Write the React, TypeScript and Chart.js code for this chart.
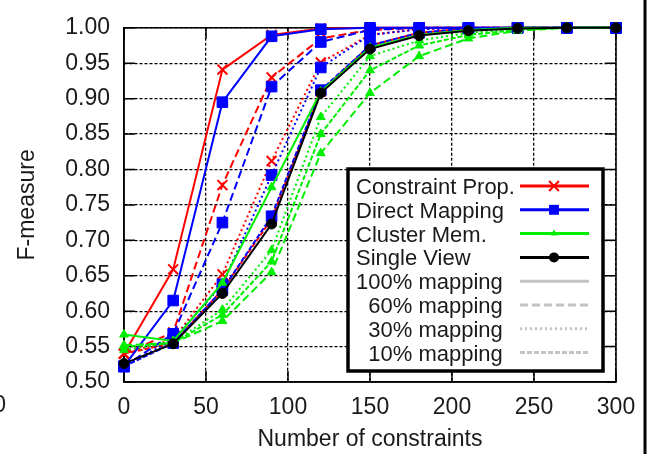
import React, { useEffect, useRef } from 'react';
import { Chart, registerables } from 'chart.js';

Chart.register(...registerables);

// ---------- data ----------
const xValues = [0, 30, 60, 90, 120, 150, 180, 210, 240, 270, 300];
const xTicks = [0, 50, 100, 150, 200, 250, 300];
const yTicks = [0.5, 0.55, 0.6, 0.65, 0.7, 0.75, 0.8, 0.85, 0.9, 0.95, 1.0];

const methods = ['Constraint Prop.', 'Direct Mapping', 'Cluster Mem.', 'Single View'];
const mappings = ['100% mapping', '60% mapping', '30% mapping', '10% mapping'];

const cp100 = [0.54, 0.659, 0.941, 0.99, 0.999, 1.0, 1.0, 1.0, 1.0, 1.0, 1.0];
const cp60 = [0.54, 0.57, 0.778, 0.93, 0.985, 0.997, 1.0, 1.0, 1.0, 1.0, 1.0];
const cp30 = [0.54, 0.56, 0.652, 0.812, 0.951, 0.99, 0.998, 1.0, 1.0, 1.0, 1.0];
const cp10 = [0.54, 0.555, 0.63, 0.73, 0.91, 0.975, 0.993, 0.999, 1.0, 1.0, 1.0];

const dm100 = [0.522, 0.615, 0.895, 0.988, 0.998, 1.0, 1.0, 1.0, 1.0, 1.0, 1.0];
const dm60 = [0.522, 0.568, 0.725, 0.917, 0.98, 0.997, 1.0, 1.0, 1.0, 1.0, 1.0];
const dm30 = [0.522, 0.56, 0.638, 0.792, 0.944, 0.99, 0.998, 1.0, 1.0, 1.0, 1.0];
const dm10 = [0.522, 0.555, 0.63, 0.734, 0.912, 0.975, 0.993, 0.999, 1.0, 1.0, 1.0];

const cm100 = [0.567, 0.558, 0.64, 0.775, 0.91, 0.972, 0.99, 0.997, 1.0, 1.0, 1.0];
const cm60 = [0.552, 0.555, 0.586, 0.655, 0.823, 0.908, 0.96, 0.985, 0.996, 1.0, 1.0];
const cm30 = [0.545, 0.556, 0.602, 0.686, 0.874, 0.96, 0.982, 0.993, 0.998, 1.0, 1.0];
const cm10 = [0.55, 0.555, 0.595, 0.67, 0.85, 0.94, 0.975, 0.99, 0.997, 1.0, 1.0];

const sv = [0.526, 0.554, 0.625, 0.723, 0.908, 0.97, 0.989, 0.996, 0.999, 1.0, 1.0];

// ---------- styles ----------
const FONT = "'Liberation Sans', Arial, Helvetica, sans-serif";
const colors = ['#ff0000', '#0000ff', '#00ee00', '#000000'];
const pointStyles = ['crossRot', 'rect', 'triangle', 'circle'];
const pointRadii = [7, 7.5, 5, 5];
const dashes = [[], [8, 4], [2, 3], [5, 2]];

const seriesByMethod = [
  [cp100, cp60, cp30, cp10],
  [dm100, dm60, dm30, dm10],
  [cm100, cm60, cm30, cm10],
  [sv],
];
const drawOrder = [3, 2, 1, 0];

function makeDatasets() {
  const out: any[] = [];
  seriesByMethod.forEach((list, m) => {
    list.forEach((vals, k) => {
      out.push({
        label: `${methods[m]} ${mappings[k]}`,
        data: xValues.map((x, i) => ({ x, y: vals[i] })),
        borderColor: colors[m],
        backgroundColor: colors[m],
        borderWidth: 2,
        borderDash: dashes[k],
        pointStyle: pointStyles[m],
        pointRadius: pointRadii[m],
        pointBorderWidth: m === 0 ? 2 : 1,
        pointBackgroundColor: colors[m],
        pointBorderColor: colors[m],
        showLine: true,
        fill: false,
        tension: 0,
        clip: false,
        order: drawOrder[m],
      });
    });
  });
  return out;
}

const TICK_LEN = 11;

function drawMarker(ctx: CanvasRenderingContext2D, style: string, x: number, y: number, r: number, color: string) {
  ctx.save();
  ctx.fillStyle = color;
  ctx.strokeStyle = color;
  ctx.setLineDash([]);
  if (style === 'crossRot') {
    const d = r * Math.SQRT1_2;
    ctx.lineWidth = 2;
    ctx.beginPath();
    ctx.moveTo(x - d, y - d); ctx.lineTo(x + d, y + d);
    ctx.moveTo(x - d, y + d); ctx.lineTo(x + d, y - d);
    ctx.stroke();
  } else if (style === 'rect') {
    const s = r * Math.SQRT1_2;
    ctx.fillRect(x - s, y - s, 2 * s, 2 * s);
  } else if (style === 'triangle') {
    ctx.beginPath();
    ctx.moveTo(x, y - r);
    ctx.lineTo(x + r * 0.866, y + r * 0.5);
    ctx.lineTo(x - r * 0.866, y + r * 0.5);
    ctx.closePath();
    ctx.fill();
  } else {
    ctx.beginPath();
    ctx.arc(x, y, r, 0, Math.PI * 2);
    ctx.fill();
  }
  ctx.restore();
}

const decorPlugin = {
  id: 'decor',
  beforeDatasetsDraw(chart: any) {
    const { ctx, chartArea: a, scales } = chart;
    const xs = scales.x;
    const ys = scales.y;
    ctx.save();
    ctx.setLineDash([]);
    ctx.strokeStyle = '#000';
    ctx.lineWidth = 1.5;
    ctx.beginPath();
    xTicks.forEach((t) => {
      const px = xs.getPixelForValue(t);
      ctx.moveTo(px, a.bottom); ctx.lineTo(px, a.bottom - TICK_LEN);
      ctx.moveTo(px, a.top); ctx.lineTo(px, a.top + TICK_LEN);
    });
    yTicks.forEach((t) => {
      const py = ys.getPixelForValue(t);
      ctx.moveTo(a.left, py); ctx.lineTo(a.left + TICK_LEN, py);
      ctx.moveTo(a.right, py); ctx.lineTo(a.right - TICK_LEN, py);
    });
    ctx.stroke();
    ctx.strokeRect(a.left, a.top, a.right - a.left, a.bottom - a.top);
    ctx.restore();
  },
  afterDatasetsDraw(chart: any) {
    const { ctx } = chart;
    const bx = 348, by = 169, bw = 255, bh = 202;
    ctx.save();
    ctx.fillStyle = '#fff';
    ctx.fillRect(bx, by, bw, bh);
    ctx.strokeStyle = '#000';
    ctx.lineWidth = 3.5;
    ctx.setLineDash([]);
    ctx.strokeRect(bx, by, bw, bh);

    ctx.font = `22px ${FONT}`;
    ctx.fillStyle = '#1a1a1a';
    ctx.textBaseline = 'alphabetic';
    const rowH = 23.8;
    const row0 = 186;
    const textX = 356;
    const lx1 = 520, lx2 = 589, mx = 554;
    const mapRight = textX + ctx.measureText(mappings[0]).width;
    methods.forEach((name, m) => {
      const ry = row0 + m * rowH;
      ctx.textAlign = 'left';
      ctx.fillStyle = '#1a1a1a';
      ctx.fillText(name, textX, ry + 8);
      ctx.strokeStyle = colors[m];
      ctx.lineWidth = 3;
      ctx.setLineDash([]);
      ctx.beginPath();
      ctx.moveTo(lx1, ry); ctx.lineTo(lx2, ry);
      ctx.stroke();
      const legendR = [7, 7, 4, 5][m];
      drawMarker(ctx, pointStyles[m], mx, ry, legendR, colors[m]);
    });
    mappings.forEach((name, k) => {
      const ry = row0 + (4 + k) * rowH;
      ctx.fillStyle = '#1a1a1a';
      ctx.textAlign = 'right';
      ctx.fillText(name, mapRight, ry + 8);
      ctx.strokeStyle = '#c4c4c4';
      ctx.lineWidth = 3;
      ctx.setLineDash(dashes[k]);
      ctx.beginPath();
      ctx.moveTo(lx1, ry); ctx.lineTo(lx2, ry);
      ctx.stroke();
    });
    ctx.restore();
  },
  afterDraw(chart: any) {
    const { ctx } = chart;
    ctx.save();
    ctx.setLineDash([]);
    ctx.strokeStyle = '#000';
    ctx.lineWidth = 3;
    ctx.beginPath();
    ctx.moveTo(645, 0); ctx.lineTo(645, 454);
    ctx.stroke();
    ctx.font = `23px ${FONT}`;
    ctx.fillStyle = '#222';
    ctx.textAlign = 'right';
    ctx.textBaseline = 'middle';
    ctx.fillText('0', 6, 406);
    ctx.restore();
  },
};

export default function App() {
  const ref = useRef<HTMLCanvasElement | null>(null);
  useEffect(() => {
    if (!ref.current) return;
    const chart = new Chart(ref.current, {
      type: 'scatter',
      data: { datasets: makeDatasets() },
      options: {
        responsive: false,
        animation: false,
        devicePixelRatio: 1,
        layout: { padding: { left: 0, top: 16, right: 44, bottom: 0 } },
        plugins: { legend: { display: false }, tooltip: { enabled: false } },
        scales: {
          x: {
            type: 'linear',
            min: 0,
            max: 300,
            afterBuildTicks: (s: any) => { s.ticks = xTicks.map((v) => ({ value: v })); },
            afterFit: (s: any) => { s.height = 72; },
            ticks: {
              color: '#1a1a1a',
              font: { family: FONT, size: 23 },
              padding: 12,
              maxRotation: 0,
              callback: (v: any) => String(v),
            },
            grid: { color: '#000', lineWidth: 1.3, drawTicks: false },
            border: { display: true, color: '#000', width: 1.5, dash: [3, 2] },
            title: {
              display: true,
              text: 'Number of constraints',
              color: '#1a1a1a',
              font: { family: FONT, size: 23 },
              padding: { top: 0, bottom: 1 },
            },
          },
          y: {
            type: 'linear',
            min: 0.5,
            max: 1.0,
            afterBuildTicks: (s: any) => { s.ticks = yTicks.map((v) => ({ value: v })); },
            afterFit: (s: any) => { s.width = 124; },
            ticks: {
              color: '#1a1a1a',
              font: { family: FONT, size: 23 },
              padding: 14,
              callback: (v: any) => Number(v).toFixed(2),
            },
            grid: { color: '#000', lineWidth: 1.3, drawTicks: false },
            border: { display: true, color: '#000', width: 1.5, dash: [3, 2] },
            title: {
              display: true,
              text: 'F-measure',
              color: '#1a1a1a',
              font: { family: FONT, size: 23 },
              padding: { top: 14, bottom: 0 },
            },
          },
        },
      } as any,
      plugins: [decorPlugin],
    });
    return () => chart.destroy();
  }, []);
  return (
    <div style={{ position: 'fixed', left: 0, top: 0, width: 660, height: 454, background: '#fff' }}>
      <canvas ref={ref} width={660} height={454} style={{ display: 'block' }} />
    </div>
  );
}
